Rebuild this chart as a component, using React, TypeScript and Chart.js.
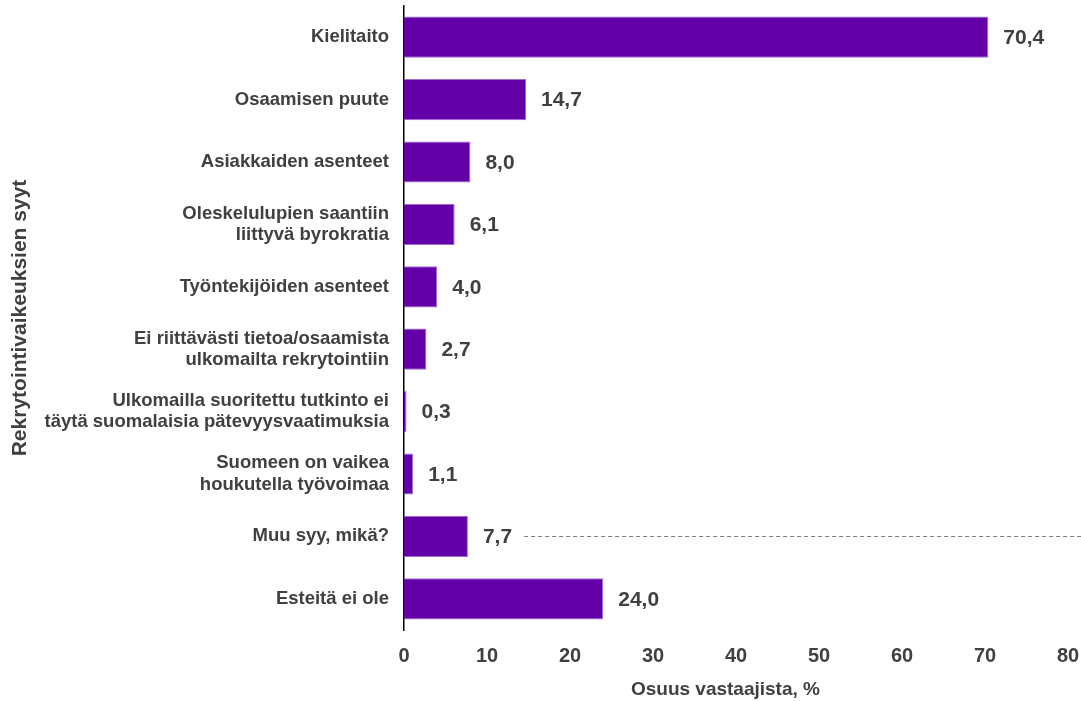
import React, { useEffect, useRef } from "react";
import { Chart, registerables } from "chart.js";

Chart.register(...registerables);

const categories: (string | string[])[] = [
  "Kielitaito",
  "Osaamisen puute",
  "Asiakkaiden asenteet",
  ["Oleskelulupien saantiin", "liittyvä byrokratia"],
  "Työntekijöiden asenteet",
  ["Ei riittävästi tietoa/osaamista", "ulkomailta rekrytointiin"],
  ["Ulkomailla suoritettu tutkinto ei", "täytä suomalaisia pätevyysvaatimuksia"],
  ["Suomeen on vaikea", "houkutella työvoimaa"],
  "Muu syy, mikä?",
  "Esteitä ei ole",
];
const values: number[] = [70.4, 14.7, 8.0, 6.1, 4.0, 2.7, 0.3, 1.1, 7.7, 24.0];
const dashedIndex = 8;
const xTitle = "Osuus vastaajista, %";
const yTitle = "Rekrytointivaikeuksien syyt";

const FONT = "'Liberation Sans', Arial, sans-serif";
const TEXT = "#404040";

const labelPlugin = {
  id: "valueLabels",
  afterDatasetsDraw(chart: any) {
    const ctx = chart.ctx;
    const meta = chart.getDatasetMeta(0);
    ctx.save();
    ctx.font = `bold 21px ${FONT}`;
    ctx.fillStyle = TEXT;
    ctx.textBaseline = "middle";
    ctx.textAlign = "left";
    meta.data.forEach((bar: any, i: number) => {
      const txt = values[i].toFixed(1).replace(".", ",");
      const x = bar.x + 15;
      ctx.fillText(txt, x, bar.y + 1);
      if (i === dashedIndex) {
        const w = ctx.measureText(txt).width;
        ctx.save();
        ctx.strokeStyle = "#7f7f7f";
        ctx.lineWidth = 1;
        ctx.setLineDash([4, 3]);
        ctx.beginPath();
        ctx.moveTo(x + w + 12, Math.round(bar.y) + 0.5);
        ctx.lineTo(chart.width, Math.round(bar.y) + 0.5);
        ctx.stroke();
        ctx.restore();
      }
    });
    ctx.restore();
  },
};

export default function App() {
  const ref = useRef<HTMLCanvasElement>(null);
  useEffect(() => {
    if (!ref.current) return;
    const chart = new Chart(ref.current, {
      type: "bar",
      data: {
        labels: categories,
        datasets: [
          {
            data: values,
            backgroundColor: "#6300a8",
            borderColor: "#9a6bd0",
            borderWidth: 1,
            barPercentage: 0.66,
            categoryPercentage: 1,
          },
        ],
      },
      options: {
        indexAxis: "y",
        animation: false,
        responsive: false,
        maintainAspectRatio: false,
        layout: { padding: { top: 6, right: 13, bottom: 0, left: 0 } },
        plugins: { legend: { display: false }, tooltip: { enabled: false } },
        scales: {
          x: {
            min: 0,
            max: 80,
            ticks: {
              stepSize: 10,
              color: TEXT,
              font: { family: FONT, size: 20, weight: "bold" },
              padding: 14,
            },
            grid: { display: false, drawTicks: false },
            border: { display: false },
            title: {
              display: true,
              text: xTitle + "    ",
              color: TEXT,
              font: { family: FONT, size: 19, weight: "bold" },
              padding: { top: 4, bottom: 0 },
            },
            afterFit(scale: any) {
              scale.height = 71;
              scale.paddingLeft = 0;
              scale.paddingRight = 0;
            },
          },
          y: {
            ticks: {
              color: TEXT,
              font: { family: FONT, size: 18.5, weight: "bold", lineHeight: 1.15 },
              padding: 15,
              autoSkip: false,
            },
            grid: { display: false, drawTicks: false },
            border: { display: true, color: "#000000", width: 1.5 },
            title: {
              display: true,
              text: yTitle,
              color: TEXT,
              font: { family: FONT, size: 21, weight: "bold" },
              padding: { top: 8, bottom: 0 },
            },
            afterFit(scale: any) {
              scale.width = 404;
              scale.paddingTop = 0;
              scale.paddingBottom = 0;
            },
          },
        },
      },
      plugins: [labelPlugin],
    });
    return () => chart.destroy();
  }, []);
  return (
    <div style={{ position: "fixed", left: 0, top: 0, width: 1081, height: 701, background: "#fff" }}>
      <canvas ref={ref} width={1081} height={701} style={{ width: 1081, height: 701 }} />
    </div>
  );
}
